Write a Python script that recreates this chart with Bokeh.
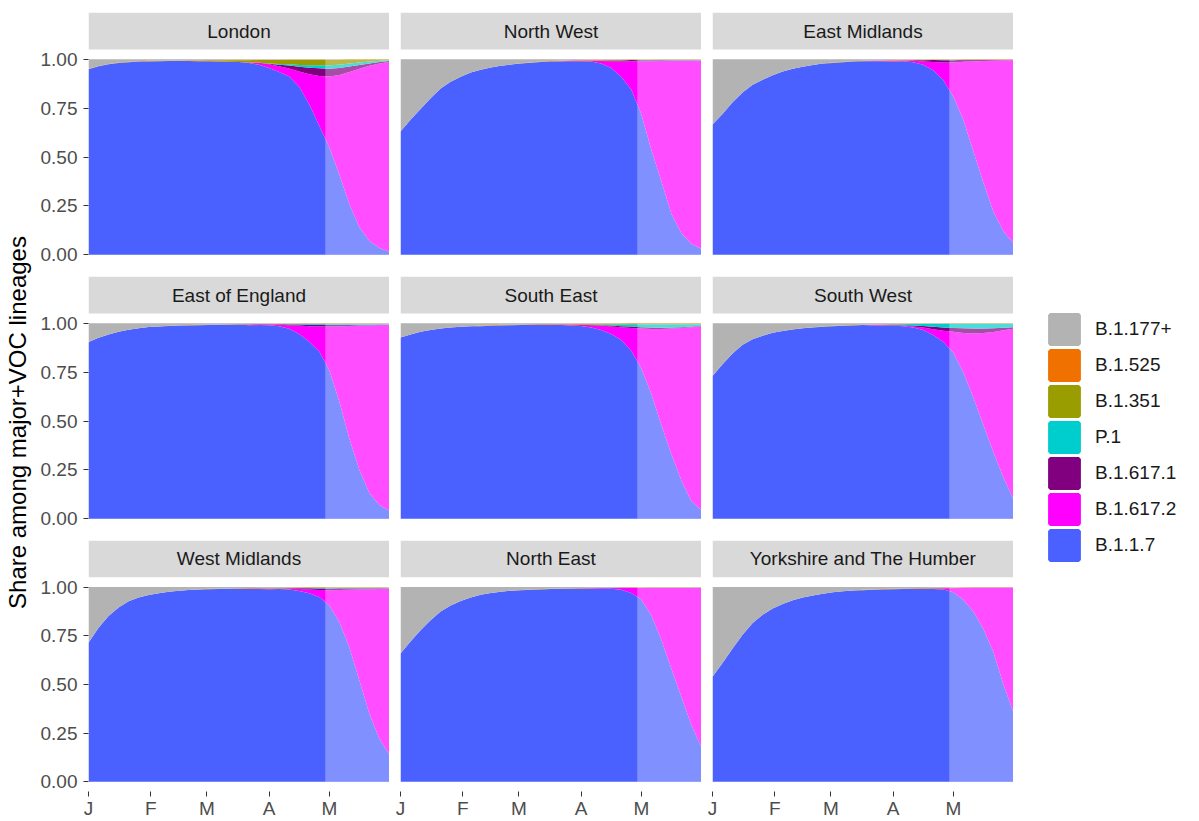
import numpy as np
from bokeh.plotting import figure
from bokeh.layouts import row, column
from bokeh.models import (ColumnDataSource, Range1d, FixedTicker, NumeralTickFormatter,
                          Legend, LegendItem, Label)
from bokeh.core.properties import value
from bokeh.embed import file_html
from bokeh.resources import INLINE

# ---------------- data ----------------
# sample dates: days since 2021-01-01
DAYS = [0, 5, 10, 15, 20, 25, 30, 35, 40, 45, 50, 55, 60, 65, 70, 75, 80, 85, 90, 95,
        100, 105, 110, 115, 120, 125, 130, 135, 140, 145, 150]
MONTH_TICKS = [0, 31, 59, 90, 120]
MONTH_LABELS = ["J", "F", "M", "A", "M"]
CUTOFF_DAY = 118          # start of the projected (lighter) period
X_END = 150

# stacking order bottom -> top
LINEAGES = ["B.1.1.7", "B.1.617.2", "B.1.617.1", "P.1", "B.1.351", "B.1.525", "B.1.177+"]
LEGEND_ORDER = ["B.1.177+", "B.1.525", "B.1.351", "P.1", "B.1.617.1", "B.1.617.2", "B.1.1.7"]
COLORS = {"B.1.177+": "#B3B3B3", "B.1.525": "#F07000", "B.1.351": "#9A9D00",
          "P.1": "#00CDCD", "B.1.617.1": "#800080", "B.1.617.2": "#FF00FF",
          "B.1.1.7": "#4B61FF"}

REGIONS = ["London", "North West", "East Midlands",
           "East of England", "South East", "South West",
           "West Midlands", "North East", "Yorkshire and The Humber"]

LONDON = {
    "B.1.1.7": [0.950, 0.965, 0.975, 0.982, 0.986, 0.988, 0.990, 0.991, 0.991, 0.991,
                0.990, 0.989, 0.988, 0.986, 0.984, 0.981, 0.976, 0.968, 0.955, 0.935,
                0.912, 0.860, 0.770, 0.660, 0.550, 0.410, 0.260, 0.140, 0.070, 0.035, 0.015],
    "B.1.617.2": [0]*16 + [0.003, 0.010, 0.019, 0.029, 0.041, 0.077, 0.154, 0.255, 0.362,
                           0.509, 0.675, 0.812, 0.897, 0.944, 0.972],
    "B.1.617.1": [0]*18 + [0.003, 0.008, 0.015, 0.025, 0.033, 0.039, 0.040, 0.036, 0.028,
                           0.019, 0.012, 0.007, 0.004],
    "P.1": [0]*18 + [0.002, 0.004, 0.006, 0.009, 0.012, 0.015, 0.017, 0.017, 0.015, 0.012,
                     0.009, 0.006, 0.004],
    "B.1.351": [0.001]*10 + [0.002, 0.003, 0.004, 0.005, 0.007, 0.009, 0.011, 0.014, 0.017, 0.020,
                             0.023, 0.026, 0.028, 0.029, 0.029, 0.026, 0.021, 0.016, 0.011, 0.007,
                             0.004],
    "B.1.525": [0.001]*6 + [0.002]*17 + [0.001]*8,
    "B.1.177+": [0.049, 0.034, 0.024, 0.017, 0.013, 0.010, 0.008, 0.007, 0.006, 0.006,
                 0.005, 0.005, 0.004, 0.004, 0.003, 0.003, 0.003, 0.002, 0.002, 0.002,
                 0.001, 0.001, 0.001, 0.001, 0.001, 0.001] + [0]*5,
}

NORTH_WEST = {
    "B.1.1.7": [0.631, 0.690, 0.745, 0.800, 0.850, 0.885, 0.910, 0.932, 0.947, 0.958,
                0.967, 0.973, 0.978, 0.982, 0.985, 0.987, 0.988, 0.989, 0.989, 0.987,
                0.978, 0.955, 0.910, 0.845, 0.720, 0.536, 0.375, 0.210, 0.110, 0.055, 0.030],
    "B.1.617.2": [0]*16 + [0.001, 0.002, 0.003, 0.005, 0.013, 0.035, 0.079, 0.144, 0.269,
                           0.453, 0.615, 0.782, 0.883, 0.938, 0.964],
    "B.1.617.1": [0]*19 + [0.001, 0.002, 0.004, 0.005, 0.006, 0.006, 0.005, 0.004, 0.003,
                           0.002, 0.002, 0.001],
    "P.1": [0]*24 + [0.001, 0.001, 0.002, 0.002, 0.002, 0.002, 0.002],
    "B.1.351": [0]*12 + [0.001]*8 + [0.002]*11,
    "B.1.525": [0]*12 + [0.001]*3 + [0.002]*8 + [0.001]*8,
    "B.1.177+": [0.369, 0.310, 0.255, 0.200, 0.150, 0.115, 0.090, 0.068, 0.053, 0.042,
                 0.033, 0.027, 0.020, 0.016, 0.012, 0.009, 0.007, 0.005, 0.004, 0.003,
                 0.003, 0.002, 0.002, 0.001, 0.001, 0.001] + [0]*5,
}

EAST_MIDLANDS = {
    "B.1.1.7": [0.666, 0.720, 0.780, 0.830, 0.870, 0.895, 0.918, 0.937, 0.951, 0.962,
                0.971, 0.978, 0.983, 0.986, 0.988, 0.989, 0.990, 0.990, 0.990, 0.990,
                0.986, 0.973, 0.944, 0.895, 0.810, 0.690, 0.530, 0.370, 0.220, 0.120, 0.058],
    "B.1.617.2": [0]*16 + [0.002, 0.003, 0.004, 0.004, 0.007, 0.017, 0.042, 0.089, 0.174,
                           0.297, 0.459, 0.621, 0.773, 0.874, 0.937],
    "B.1.617.1": [0]*20 + [0.003, 0.006, 0.010, 0.012, 0.012, 0.010, 0.008, 0.006, 0.004,
                           0.003, 0.002],
    "P.1": [0]*23 + [0.001]*8,
    "B.1.351": [0]*12 + [0.001]*19,
    "B.1.525": [0]*12 + [0.001]*6 + [0.002]*7 + [0.001]*6,
    "B.1.177+": [0.334, 0.280, 0.220, 0.170, 0.130, 0.105, 0.082, 0.063, 0.049, 0.038,
                 0.029, 0.022, 0.017, 0.013, 0.010, 0.008, 0.006, 0.005, 0.004, 0.003,
                 0.002, 0.002, 0.001, 0.001, 0.001] + [0]*6,
}

EAST_OF_ENGLAND = {
    "B.1.1.7": [0.904, 0.926, 0.943, 0.957, 0.967, 0.975, 0.980, 0.983, 0.985, 0.987,
                0.988, 0.989, 0.990, 0.990, 0.990, 0.990, 0.990, 0.990, 0.990, 0.985,
                0.972, 0.945, 0.905, 0.855, 0.760, 0.600, 0.410, 0.250, 0.130, 0.070, 0.040],
    "B.1.617.2": [0]*16 + [0.004, 0.004, 0.005, 0.008, 0.018, 0.043, 0.080, 0.128, 0.223,
                           0.384, 0.576, 0.738, 0.859, 0.921, 0.952],
    "B.1.617.1": [0]*19 + [0.002, 0.004, 0.006, 0.008, 0.009, 0.009, 0.008, 0.006, 0.005,
                           0.004, 0.003, 0.002],
    "P.1": [0]*20 + [0.001, 0.002, 0.003, 0.004, 0.005, 0.005, 0.005, 0.004, 0.004, 0.003, 0.003],
    "B.1.351": [0]*10 + [0.001]*9 + [0.002]*12,
    "B.1.525": [0]*8 + [0.001]*23,
    "B.1.177+": [0.096, 0.074, 0.057, 0.043, 0.033, 0.025, 0.019, 0.016, 0.013, 0.011,
                 0.009, 0.008, 0.007, 0.006, 0.005, 0.004, 0.004, 0.003, 0.003, 0.002,
                 0.002, 0.001, 0.001, 0.001] + [0]*7,
}

SOUTH_EAST = {
    "B.1.1.7": [0.927, 0.942, 0.956, 0.966, 0.973, 0.978, 0.982, 0.985, 0.987, 0.988,
                0.989, 0.990, 0.990, 0.990, 0.990, 0.990, 0.990, 0.990, 0.986, 0.978,
                0.965, 0.945, 0.915, 0.860, 0.770, 0.640, 0.480, 0.330, 0.195, 0.090, 0.044],
    "B.1.617.2": [0]*15 + [0.002, 0.003, 0.004, 0.006, 0.012, 0.023, 0.039, 0.065, 0.116,
                           0.203, 0.331, 0.491, 0.643, 0.781, 0.890, 0.940],
    "B.1.617.1": [0]*19 + [0.001, 0.002, 0.004, 0.005, 0.007, 0.007, 0.007, 0.006, 0.005,
                           0.004, 0.003, 0.002],
    "P.1": [0]*18 + [0.001, 0.002, 0.004, 0.006, 0.009, 0.012, 0.015, 0.017, 0.018, 0.017,
                     0.015, 0.012, 0.009],
    "B.1.351": [0]*8 + [0.001]*9 + [0.003]*14,
    "B.1.525": [0]*8 + [0.002]*23,
    "B.1.177+": [0.073, 0.058, 0.044, 0.034, 0.027, 0.022, 0.018, 0.015, 0.012, 0.010,
                 0.008, 0.007, 0.006, 0.005, 0.004, 0.004, 0.003, 0.003, 0.002, 0.002,
                 0.001, 0.001, 0.001] + [0]*8,
}

SOUTH_WEST = {
    "B.1.1.7": [0.730, 0.790, 0.848, 0.890, 0.918, 0.936, 0.951, 0.961, 0.969, 0.975,
                0.979, 0.983, 0.985, 0.987, 0.988, 0.989, 0.989, 0.989, 0.988, 0.985,
                0.979, 0.965, 0.940, 0.905, 0.850, 0.750, 0.620, 0.480, 0.340, 0.210, 0.100],
    "B.1.617.2": [0]*16 + [0.002, 0.002, 0.002, 0.003, 0.005, 0.013, 0.030, 0.057, 0.106,
                           0.200, 0.328, 0.470, 0.615, 0.754, 0.872],
    "B.1.617.1": [0]*18 + [0.001, 0.002, 0.004, 0.008, 0.012, 0.016, 0.020, 0.024, 0.025,
                           0.023, 0.019, 0.013, 0.008],
    "P.1": [0]*16 + [0.001, 0.002, 0.003, 0.005, 0.008, 0.011, 0.015, 0.019, 0.022, 0.024,
                     0.025, 0.025, 0.024, 0.021, 0.018],
    "B.1.351": [0]*10 + [0.001]*21,
    "B.1.525": [0]*8 + [0.001]*23,
    "B.1.177+": [0.270, 0.210, 0.155, 0.110, 0.082, 0.064, 0.049, 0.039, 0.031, 0.025,
                 0.020, 0.016, 0.013, 0.011, 0.009, 0.007, 0.006, 0.005, 0.004, 0.003,
                 0.002, 0.001, 0.001, 0.001] + [0]*7,
}

WEST_MIDLANDS = {
    "B.1.1.7": [0.713, 0.790, 0.850, 0.893, 0.925, 0.945, 0.958, 0.967, 0.974, 0.979,
                0.983, 0.986, 0.988, 0.989, 0.990, 0.990, 0.990, 0.990, 0.990, 0.990,
                0.987, 0.980, 0.968, 0.948, 0.905, 0.820, 0.690, 0.520, 0.350, 0.220, 0.138],
    "B.1.617.2": [0]*16 + [0.002, 0.003, 0.003, 0.003, 0.005, 0.010, 0.019, 0.036, 0.079,
                           0.164, 0.295, 0.468, 0.640, 0.771, 0.853],
    "B.1.617.1": [0]*20 + [0.002, 0.004, 0.006, 0.008, 0.009, 0.009, 0.008, 0.006, 0.005,
                           0.004, 0.003],
    "P.1": [0]*22 + [0.001, 0.002, 0.003, 0.003, 0.003, 0.003, 0.003, 0.003, 0.003],
    "B.1.351": [0]*11 + [0.001]*7 + [0.002]*13,
    "B.1.525": [0]*12 + [0.001]*3 + [0.002]*10 + [0.001]*6,
    "B.1.177+": [0.285, 0.208, 0.148, 0.105, 0.073, 0.053, 0.040, 0.031, 0.024, 0.019,
                 0.015, 0.012, 0.009, 0.008, 0.007, 0.006, 0.005, 0.004, 0.004, 0.003,
                 0.002, 0.002, 0.001, 0.001] + [0]*7,
}

NORTH_EAST = {
    "B.1.1.7": [0.659, 0.720, 0.778, 0.830, 0.875, 0.905, 0.928, 0.947, 0.960, 0.969,
                0.976, 0.981, 0.985, 0.987, 0.989, 0.990, 0.990, 0.990, 0.990, 0.990,
                0.990, 0.990, 0.984, 0.968, 0.935, 0.855, 0.730, 0.580, 0.435, 0.290, 0.178],
    "B.1.617.2": [0]*17 + [0.001, 0.002, 0.002, 0.003, 0.003, 0.009, 0.026, 0.059, 0.140,
                           0.265, 0.415, 0.560, 0.705, 0.817],
    "B.1.617.1": [0]*21 + [0.001]*4 + [0.002]*6,
    "P.1": [0]*25 + [0.001]*6,
    "B.1.351": [0]*13 + [0.001]*18,
    "B.1.525": [0]*12 + [0.001]*19,
    "B.1.177+": [0.341, 0.280, 0.222, 0.170, 0.125, 0.095, 0.072, 0.053, 0.040, 0.031,
                 0.024, 0.019, 0.015, 0.012, 0.010, 0.008, 0.007, 0.006, 0.005, 0.004,
                 0.003, 0.003, 0.002, 0.001, 0.001] + [0]*6,
}

YORKSHIRE = {
    "B.1.1.7": [0.539, 0.610, 0.685, 0.755, 0.815, 0.858, 0.890, 0.913, 0.932, 0.946,
                0.957, 0.966, 0.973, 0.979, 0.983, 0.986, 0.988, 0.990, 0.990, 0.990,
                0.990, 0.990, 0.990, 0.987, 0.973, 0.935, 0.875, 0.785, 0.665, 0.500, 0.355],
    "B.1.617.2": [0]*20 + [0.001, 0.001, 0.002, 0.006, 0.021, 0.060, 0.122, 0.212, 0.332,
                           0.497, 0.642],
    "B.1.617.1": [0]*22 + [0.001]*9,
    "P.1": [0]*31,
    "B.1.351": [0]*13 + [0.001]*18,
    "B.1.525": [0]*15 + [0.001]*2 + [0.002]*9 + [0.001]*5,
    "B.1.177+": [0.461, 0.390, 0.315, 0.245, 0.185, 0.142, 0.110, 0.087, 0.068, 0.054,
                 0.043, 0.034, 0.027, 0.021, 0.017, 0.014, 0.012, 0.010, 0.008, 0.007,
                 0.006, 0.005, 0.004, 0.003, 0.002, 0.001] + [0]*5,
}

REGION_DATA = {"London": LONDON, "North West": NORTH_WEST, "East Midlands": EAST_MIDLANDS,
               "East of England": EAST_OF_ENGLAND, "South East": SOUTH_EAST,
               "South West": SOUTH_WEST, "West Midlands": WEST_MIDLANDS,
               "North East": NORTH_EAST, "Yorkshire and The Humber": YORKSHIRE}

# ---------------- styling / layout ----------------
FONT = "Liberation Sans"
PANEL_PX = 215      # panel (y from -0.05 to 1.05)
STRIP_PX = 37       # facet strip height
Y0, Y1 = -0.05, 1.05
Y_TOP = Y1 + STRIP_PX * (Y1 - Y0) / PANEL_PX
FRAME_W = 301
TOTAL_H = 821
TITLE_W = 36


def shares(region):
    d = REGION_DATA[region]
    arr = np.array([d[l] for l in LINEAGES], dtype=float)
    arr = arr / arr.sum(axis=0, keepdims=True)
    out = {"x": DAYS}
    for i, l in enumerate(LINEAGES):
        out[l] = arr[i]
    return out


def facet(region, r, c):
    left = (88 - TITLE_W) if c == 0 else 11
    top = 12 if r == 0 else 0
    bottom = 29 if r == 2 else 12
    p = figure(width=left + FRAME_W, height=top + PANEL_PX + STRIP_PX + bottom,
               x_range=Range1d(0, X_END), y_range=Range1d(Y0, Y_TOP),
               min_border_left=left, min_border_right=0, min_border_top=top,
               min_border_bottom=bottom,
               x_axis_location="below" if r == 2 else None,
               y_axis_location="left" if c == 0 else None,
               output_backend="svg", toolbar_location=None, title=None)
    p.outline_line_color = None
    p.background_fill_color = "white"
    p.border_fill_color = "white"
    p.grid.visible = False

    src = ColumnDataSource(shares(region))
    p.varea_stack(stackers=LINEAGES, x="x", color=[COLORS[l] for l in LINEAGES], source=src)
    # lighter projection period
    p.quad(left=[CUTOFF_DAY], right=[X_END], bottom=[0], top=[1],
           fill_color="white", fill_alpha=0.3, line_color=None)
    # facet strip
    p.quad(left=[0], right=[X_END], bottom=[Y1], top=[Y_TOP],
           fill_color="#D9D9D9", line_color=None)
    p.text(x=[X_END / 2], y=[(Y1 + Y_TOP) / 2], text=[region], text_align="center",
           text_baseline="middle", text_font=value(FONT), text_font_size="19px",
           text_color="#1A1A1A")

    if c == 0:
        ax = p.yaxis[0]
        ax.ticker = FixedTicker(ticks=[0, 0.25, 0.5, 0.75, 1.0])
        ax.formatter = NumeralTickFormatter(format="0.00")
        ax.axis_line_color = None
        ax.major_tick_line_color = "#333333"
        ax.major_tick_out = 5
        ax.major_tick_in = 0
        ax.minor_tick_line_color = None
        ax.major_label_text_font = FONT
        ax.major_label_text_font_size = "19px"
        ax.major_label_text_color = "#4D4D4D"
        ax.major_label_standoff = 6
    if r == 2:
        ax = p.xaxis[0]
        ax.ticker = FixedTicker(ticks=MONTH_TICKS)
        ax.major_label_overrides = {t: lab for t, lab in zip(MONTH_TICKS, MONTH_LABELS)}
        ax.axis_line_color = None
        ax.major_tick_line_color = "#333333"
        ax.major_tick_out = 5
        ax.major_tick_in = 0
        ax.minor_tick_line_color = None
        ax.major_label_text_font = FONT
        ax.major_label_text_font_size = "19px"
        ax.major_label_text_color = "#4D4D4D"
        ax.major_label_standoff = 1
    return p


rows = []
for r in range(3):
    rows.append(row([facet(REGIONS[3 * r + c], r, c) for c in range(3)]))
grid = column(rows)

# y-axis title
yt = figure(width=TITLE_W, height=TOTAL_H, x_range=Range1d(0, 1), y_range=Range1d(0, 1),
            x_axis_location=None, y_axis_location=None, min_border_left=0, min_border_right=0,
            min_border_top=0, min_border_bottom=0, output_backend="svg",
            toolbar_location=None, title=None)
yt.outline_line_color = None
yt.grid.visible = False
yt.add_layout(Label(x=17, y=TOTAL_H - 422, x_units="screen", y_units="screen",
                    text="Share among major+VOC lineages", angle=90, angle_units="deg",
                    text_align="center", text_baseline="middle", text_font=FONT,
                    text_font_size="24px", text_color="black"))

# legend (dummy renderers outside the visible range carry the swatch styles)
lg = figure(width=186, height=TOTAL_H, x_range=Range1d(0, 1), y_range=Range1d(0, 1),
            x_axis_location=None, y_axis_location=None, min_border_left=0, min_border_right=0,
            min_border_top=0, min_border_bottom=0, output_backend="svg",
            toolbar_location=None, title=None)
lg.outline_line_color = None
lg.grid.visible = False
items = []
for lab in LEGEND_ORDER:
    rr = lg.quad(left=[2], right=[3], bottom=[2], top=[3], fill_color=COLORS[lab],
                 line_color=COLORS[lab], line_width=4)
    items.append(LegendItem(label=lab, renderers=[rr], index=0))
legend = Legend(items=items, location=(33, 258), orientation="vertical",
                glyph_width=36, glyph_height=36, spacing=0, padding=0, margin=0,
                label_standoff=13, label_text_font=FONT, label_text_font_size="19px",
                label_text_color="#1A1A1A", border_line_color=None,
                background_fill_alpha=0)
lg.add_layout(legend, "center")

p = row([yt, grid, lg])

open("out.html", "w").write(file_html(p, INLINE))
